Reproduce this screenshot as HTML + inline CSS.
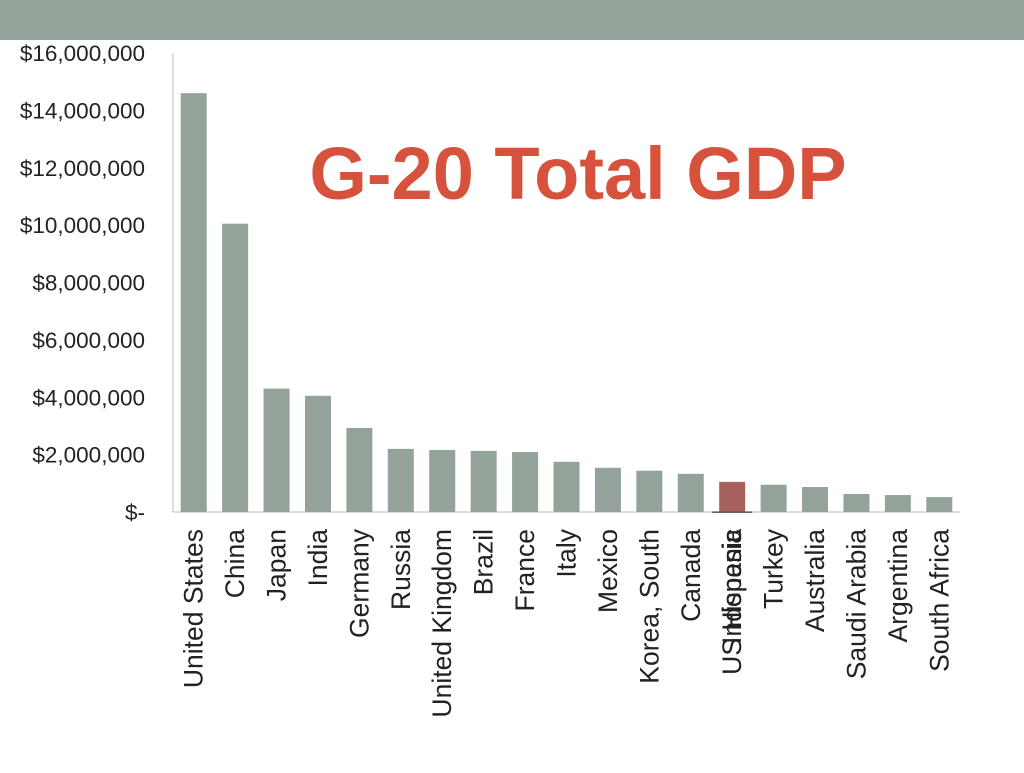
<!DOCTYPE html>
<html><head><meta charset="utf-8"><style>
body{margin:0;width:1024px;height:768px;background:#fff;overflow:hidden;font-family:"Liberation Sans",sans-serif}
</style></head><body>
<svg width="1024" height="768">
<rect x="0" y="0" width="1024" height="40" fill="#93a39a"/>
<g id="chart"></g>
<text x="578" y="199" text-anchor="middle" font-size="74" font-weight="bold" fill="#d6523d">G-20 Total GDP</text>
</svg>
<script>
const categories=["United States","China","Japan","India","Germany","Russia","United Kingdom","Brazil","France","Italy","Mexico","Korea, South","Canada","US Hispanic","Turkey","Australia","Saudi Arabia","Argentina","South Africa"];
const slots=[0,1,2,3,4,5,6,7,8,9,10,11,12,13,14,15,16,17,18];
const values=[14600000,10050000,4300000,4050000,2930000,2200000,2160000,2130000,2090000,1750000,1540000,1440000,1330000,1050000,950000,870000,630000,590000,520000];
const extraLabel="Indonesia";
const extraValue=20000;
const ticks=[0,2000000,4000000,6000000,8000000,10000000,12000000,14000000,16000000];
const tickLabels=["$-","$2,000,000","$4,000,000","$6,000,000","$8,000,000","$10,000,000","$12,000,000","$14,000,000","$16,000,000"];
const NS="http://www.w3.org/2000/svg";
const g=document.getElementById('chart');
const y0=512,y1=53,x0=173,x1=960,n=19,slotW=(x1-x0)/n;
const y=v=>y0-(v/16000000)*(y0-y1);
const xc=i=>x0+slotW*(i+0.5);
function el(t,a){const e=document.createElementNS(NS,t);for(const k in a)e.setAttribute(k,a[k]);g.appendChild(e);return e;}
let ax=el('line',{x1:x0,y1:y1,x2:x0,y2:y0,stroke:'#bbb','stroke-width':1});


let bx=el('line',{x1:x0,y1:y0,x2:x1,y2:y0,stroke:'#bbb','stroke-width':1});


ticks.forEach((t,i)=>{
 const tx=el('text',{x:145,y:y(t)+8,'text-anchor':'end','font-size':22.5,fill:'#222'});
 tx.textContent=tickLabels[i];
 
 
});
values.forEach((v,i)=>{
 const c=xc(slots[i]);
 const r=el('rect',{x:c-13,y:y(v),width:26,height:y0-y(v),fill:i===13?'#a8605a':'#93a39a'});
 
 
 const t=el('text',{transform:`translate(${c+9},529) rotate(-90)`,'text-anchor':'end','font-size':26.5,fill:'#222'});
 t.textContent=categories[i];
 
 
});
const ci=xc(13);
const ib=el('rect',{x:ci-20,y:y(extraValue),width:40,height:Math.max(1.5,y0-y(extraValue)),fill:'#555'});


const it=el('text',{transform:`translate(${ci+9},529) rotate(-90)`,'text-anchor':'end','font-size':26.5,fill:'#222'});
it.textContent=extraLabel;


</script>
</body></html>
